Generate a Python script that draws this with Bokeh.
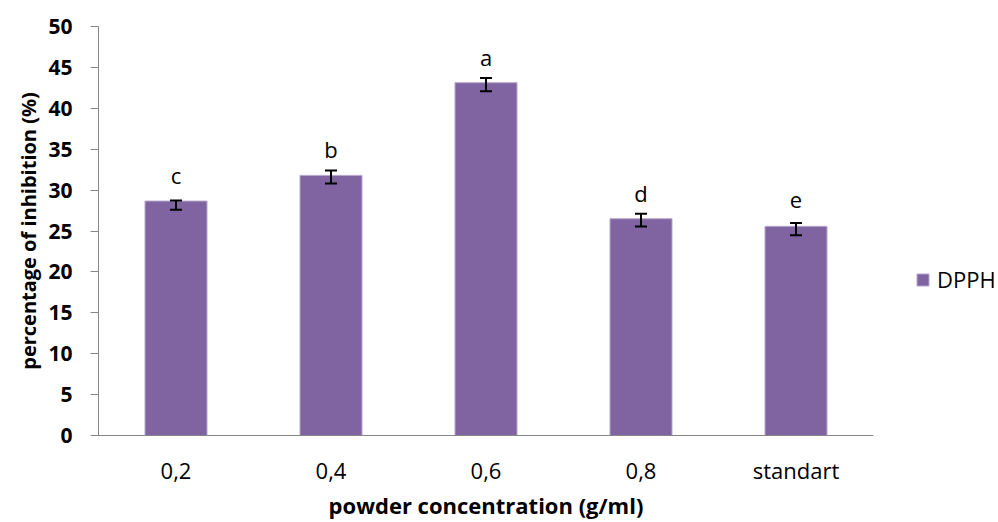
from bokeh.plotting import figure
from bokeh.models import FactorRange, Range1d, ColumnDataSource, Whisker, TeeHead, Legend, LegendItem
from bokeh.layouts import row
from bokeh.core.properties import value
from bokeh.embed import file_html
from bokeh.resources import INLINE

# ---- data ----
categories = ["0,2", "0,4", "0,6", "0,8", "standart"]
dpph = [28.66, 31.8, 43.13, 26.5, 25.57]
err_upper = [28.74, 32.4, 43.7, 27.12, 25.98]
err_lower = [27.6, 30.8, 42.07, 25.54, 24.48]
letters = ["c", "b", "a", "d", "e"]
y_ticks = [0, 5, 10, 15, 20, 25, 30, 35, 40, 45, 50]
series_name = "DPPH"

FONT = "Open Sans"
BAR = "#8064A2"
EDGE = "#B7A6CC"

src = ColumnDataSource(dict(cat=categories, val=dpph, up=err_upper, lo=err_lower, lab=letters))

p = figure(x_range=FactorRange(factors=categories, range_padding=0),
           y_range=Range1d(0, 50),
           width=875, height=522,
           min_border_left=98, min_border_right=2, min_border_top=26, min_border_bottom=86,
           output_backend="svg", toolbar_location=None)

p.outline_line_color = None
p.xgrid.grid_line_color = None
p.ygrid.grid_line_color = None

bars = p.vbar(x="cat", top="val", width=0.4, source=src, fill_color=BAR,
              line_color=EDGE, line_width=1)

w = Whisker(base="cat", upper="up", lower="lo", source=src, line_color="black", line_width=2,
            level="overlay",
            upper_head=TeeHead(size=12, line_width=2, line_color="black"),
            lower_head=TeeHead(size=12, line_width=2, line_color="black"))
p.add_layout(w)

p.text(x="cat", y="val", text="lab", source=src, text_align="center", text_baseline="alphabetic",
       y_offset=-26, text_font=value(FONT), text_font_size="22px", text_color="black")

# y axis
p.yaxis.ticker = y_ticks
p.yaxis.axis_line_color = "#868686"
p.yaxis.major_tick_line_color = "#868686"
p.yaxis.major_tick_out = 8
p.yaxis.major_tick_in = 0
p.yaxis.minor_tick_line_color = None
p.yaxis.major_label_standoff = 18
p.yaxis.major_label_text_font = FONT
p.yaxis.major_label_text_font_size = "21px"
p.yaxis.major_label_text_font_style = "bold"
p.yaxis.major_label_text_color = "black"
p.yaxis.axis_label = "percentage of inhibition (%)"
p.yaxis.axis_label_text_font = FONT
p.yaxis.axis_label_text_font_size = "20px"
p.yaxis.axis_label_text_font_style = "bold"
p.yaxis.axis_label_text_color = "black"
p.yaxis.axis_label_standoff = 3

# x axis
p.xaxis.axis_line_color = "#868686"
p.xaxis.major_tick_line_color = None
p.xaxis.minor_tick_line_color = None
p.xaxis.major_label_standoff = 13
p.xaxis.major_label_text_font = FONT
p.xaxis.major_label_text_font_size = "22px"
p.xaxis.major_label_text_color = "black"
p.xaxis.axis_label = "powder concentration (g/ml)"
p.xaxis.axis_label_text_font = FONT
p.xaxis.axis_label_text_font_size = "22px"
p.xaxis.axis_label_text_font_style = "bold"
p.xaxis.axis_label_text_color = "black"
p.xaxis.axis_label_standoff = 2

# legend panel to the right of the plot
pl = figure(width=123, height=522, x_range=Range1d(0, 1), y_range=Range1d(0, 1),
            min_border_left=0, min_border_right=0, min_border_top=0, min_border_bottom=0,
            output_backend="svg", toolbar_location=None)
pl.axis.visible = False
pl.grid.visible = False
pl.outline_line_color = None
# swatch renderer: same series, lies outside this panel's ranges so only its legend entry shows
swatch = pl.vbar(x="val", top="val", width=0.4, source=src, fill_color=BAR, line_color=EDGE, line_width=1)
legend = Legend(items=[LegendItem(label=series_name, renderers=[swatch])],
                location=(40, 141), orientation="vertical",
                glyph_width=15, glyph_height=15, label_standoff=7, padding=0, margin=0,
                border_line_color=None, background_fill_alpha=0,
                label_text_font=FONT, label_text_font_size="22px", label_text_color="black")
pl.add_layout(legend, "center")

layout = row(p, pl)
open("out.html", "w").write(file_html(layout, INLINE))
